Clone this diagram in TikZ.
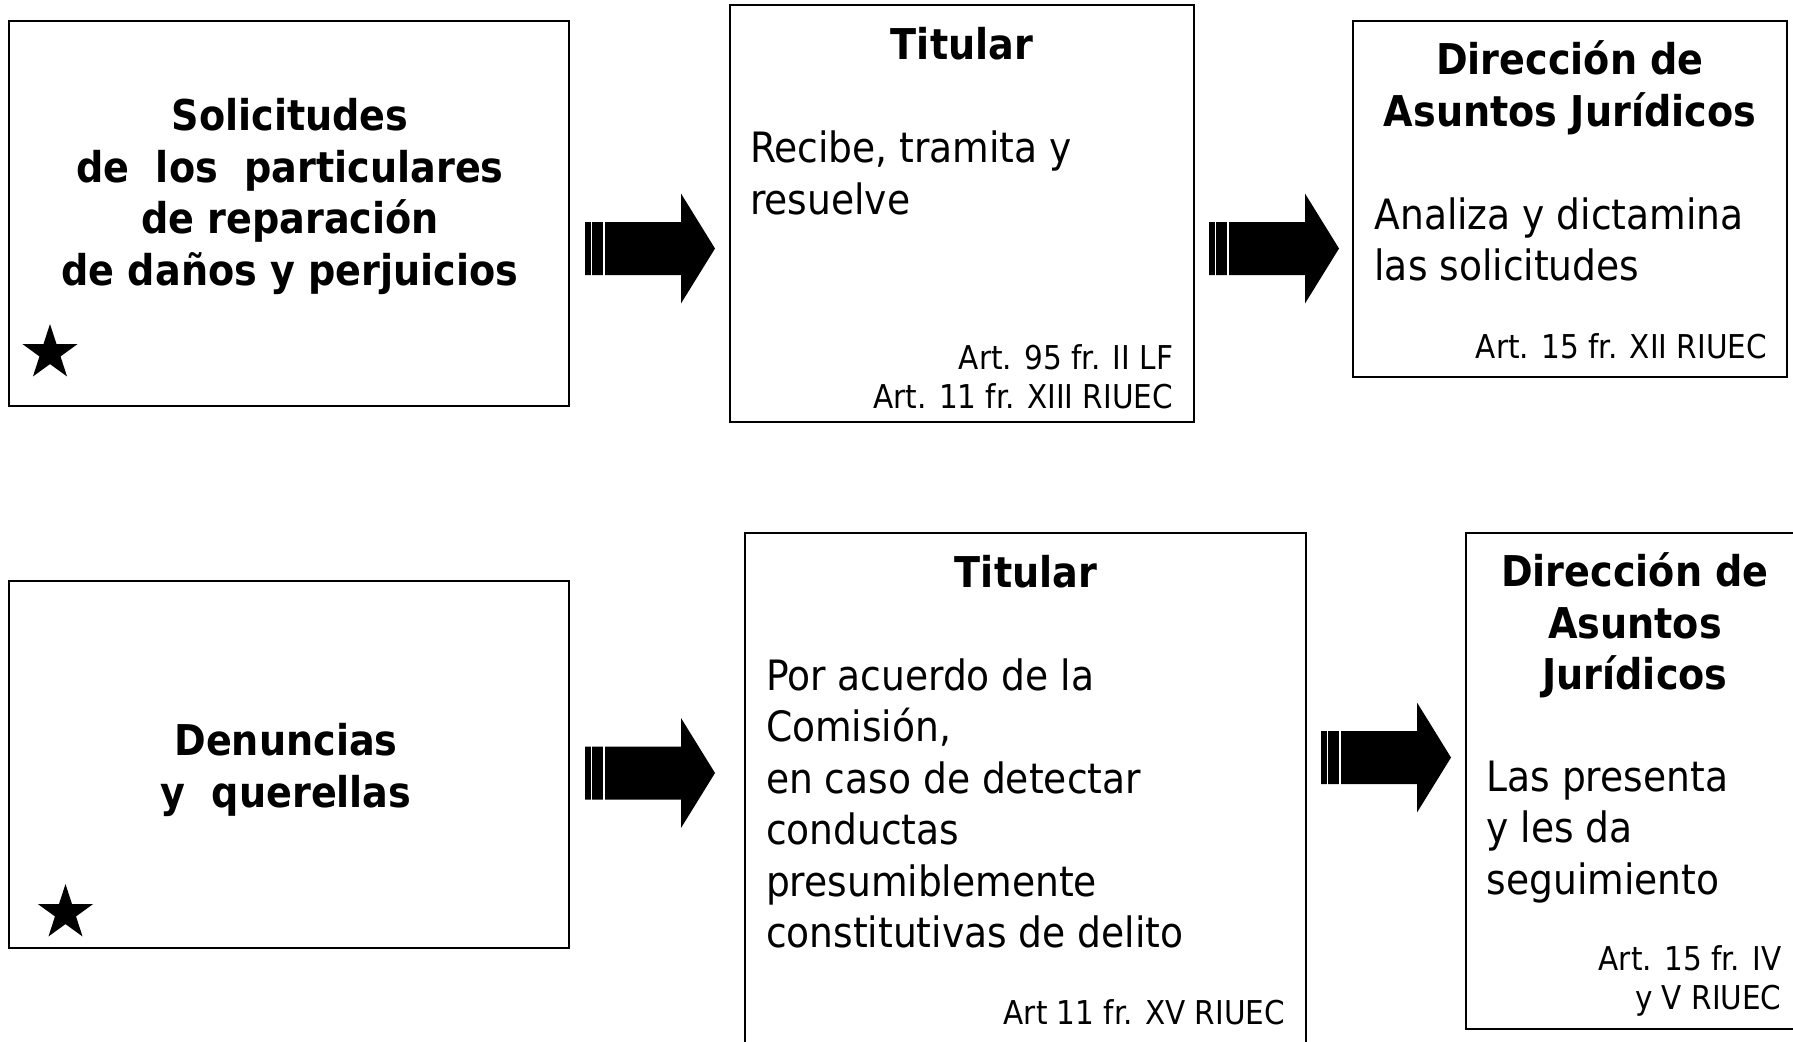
\documentclass[tikz,border=0pt]{standalone}
\usepackage{fontspec}
\setmainfont{DejaVu Sans Condensed}
\usetikzlibrary{shapes.geometric}
\tikzset{
 box/.style={draw=black, line width=1pt, rectangle, inner sep=0pt, outer sep=0pt},
 txt/.style={inner sep=0pt, outer sep=0pt, font=\fontsize{20.9}{25.75}\selectfont},
 ttl/.style={inner sep=0pt, outer sep=0pt, align=center, font=\fontsize{21.2}{25.75}\selectfont\bfseries},
 reftxt/.style={inner sep=0pt, outer sep=0pt, align=right, anchor=east, font=\fontsize{16.4}{19.75}\selectfont},
 body/.style={txt, align=left, anchor=west},
 starmark/.style={star, star points=5, star point ratio=2.618, fill=black, inner sep=0pt, outer sep=0pt, minimum size=29pt},
}
\newcommand{\blkarrow}[2]{%
 \fill[black] (#1,#2-26.5) -- (#1+96,#2-26.5) -- (#1+96,#2-55) -- (#1+130,#2) -- (#1+96,#2+55) -- (#1+96,#2+26.5) -- (#1,#2+26.5) -- cycle;
 \fill[white] (#1+6,#2-27) rectangle (#1+7.4,#2+27);
 \fill[white] (#1+18.2,#2-27) rectangle (#1+19.6,#2+27);
}
\begin{document}
\begin{tikzpicture}[x=0.5pt,y=-0.5pt]
\clip (0,0) rectangle (1793,1041);
\fill[white] (0,0) rectangle (1793,1041);

% boxes
\node[box, minimum width=280pt, minimum height=192.5pt] (b1) at (289,213.5) {};
\node[box, minimum width=232pt, minimum height=208.5pt] (b2) at (962,213.5) {};
\node[box, minimum width=217pt, minimum height=178pt] (b3) at (1570,199) {};
\node[box, minimum width=280pt, minimum height=183.5pt] (b4) at (289,764.5) {};
\node[box, minimum width=280.5pt, minimum height=263.5pt] (b5) at (1025.5,796.5) {};
\node[box, minimum width=169.5pt, minimum height=248pt] (b6) at (1635.5,781) {};

% box 1
\node[ttl] (t1) at (290,196.5) {Solicitudes\\de~ los~ particulares\\de reparación\\de daños y perjuicios};
\node[starmark] (s1) at (50,353) {};

% box 2
\node[ttl] (t2) at (962,44) {Titular};
\node[body] (x2) at (750,173) {Recibe, tramita y\\resuelve};
\node[reftxt] (r2) at (1173,377) {Art. 95 fr. II LF\\Art. 11 fr. XIII RIUEC};

% box 3
\node[ttl] (t3) at (1570,88) {Dirección de\\Asuntos Jurídicos};
\node[body] (x3) at (1374.5,239.5) {Analiza y dictamina\\las solicitudes};
\node[reftxt] (r3) at (1767,346.5) {Art. 15 fr. XII RIUEC};

% box 4
\node[ttl] (t4) at (286,770) {Denuncias\\y~ querellas};
\node[starmark] (s2) at (65.5,913) {};

% box 5
\node[ttl] (t5) at (1026,572) {Titular};
\node[body] (x5) at (766,803.4) {Por acuerdo de la\\Comisión,\\en caso de detectar\\conductas\\presumiblemente\\constitutivas de delito};
\node[reftxt] (r5) at (1285,1012) {Art 11 fr. XV RIUEC};

% box 6
\node[ttl] (t6) at (1635,625.5) {Dirección de\\Asuntos\\Jurídicos};
\node[body] (x6) at (1486.6,832) {Las presenta\\y les da\\seguimiento};
\node[reftxt] (r6) at (1781.6,981) {Art. 15 fr. IV\\y V RIUEC};

% arrows
\blkarrow{585}{248.5}
\blkarrow{1209}{248.5}
\blkarrow{585}{773}
\blkarrow{1321}{757.5}
\end{tikzpicture}
\end{document}
